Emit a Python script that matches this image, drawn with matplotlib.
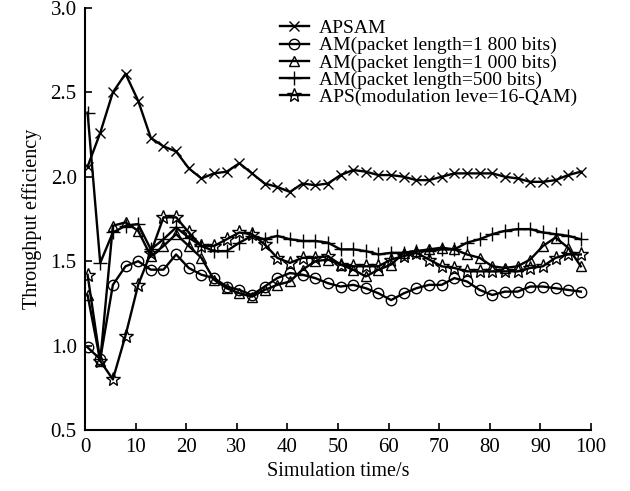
import matplotlib
matplotlib.use("Agg")
import matplotlib.pyplot as plt

plt.rcParams['font.family'] = ['Liberation Serif', 'DejaVu Serif']

# simulation time (s)
time = [0.5, 3.0, 5.5, 8.0, 10.5, 13.0, 15.5, 18.0, 20.5, 23.0,
        25.5, 28.0, 30.5, 33.0, 35.5, 38.0, 40.5, 43.0, 45.5, 48.0,
        50.5, 53.0, 55.5, 58.0, 60.5, 63.0, 65.5, 68.0, 70.5, 73.0,
        75.5, 78.0, 80.5, 83.0, 85.5, 88.0, 90.5, 93.0, 95.5, 98.0]

apsam = [2.06, 2.26, 2.50, 2.61, 2.45, 2.23, 2.18, 2.15, 2.05, 1.99,
         2.02, 2.03, 2.08, 2.02, 1.96, 1.94, 1.91, 1.96, 1.95, 1.96,
         2.01, 2.04, 2.03, 2.01, 2.01, 2.00, 1.98, 1.98, 2.00, 2.02,
         2.02, 2.02, 2.02, 2.00, 1.99, 1.97, 1.97, 1.98, 2.01, 2.03]

am_1800 = [0.99, 0.92, 1.36, 1.47, 1.50, 1.45, 1.45, 1.54, 1.46, 1.42,
           1.40, 1.35, 1.33, 1.30, 1.35, 1.40, 1.43, 1.42, 1.40, 1.37,
           1.35, 1.36, 1.34, 1.31, 1.27, 1.31, 1.34, 1.36, 1.36, 1.40,
           1.38, 1.33, 1.30, 1.32, 1.32, 1.35, 1.35, 1.34, 1.33, 1.32]

am_1000 = [1.30, 0.91, 1.71, 1.73, 1.68, 1.53, 1.59, 1.66, 1.59, 1.52,
           1.39, 1.34, 1.31, 1.29, 1.33, 1.36, 1.38, 1.45, 1.50, 1.51,
           1.48, 1.45, 1.41, 1.45, 1.48, 1.55, 1.56, 1.57, 1.58, 1.57,
           1.54, 1.52, 1.47, 1.46, 1.47, 1.51, 1.59, 1.64, 1.58, 1.47]

am_500 = [2.38, 1.49, 1.67, 1.71, 1.72, 1.57, 1.63, 1.70, 1.64, 1.59,
          1.56, 1.56, 1.61, 1.65, 1.63, 1.65, 1.63, 1.62, 1.62, 1.61,
          1.57, 1.57, 1.56, 1.54, 1.55, 1.55, 1.56, 1.56, 1.57, 1.57,
          1.61, 1.63, 1.66, 1.68, 1.69, 1.69, 1.67, 1.66, 1.65, 1.63]

aps_16qam = [1.42, 0.91, 0.80, 1.06, 1.36, 1.55, 1.76, 1.76, 1.67, 1.59,
             1.59, 1.63, 1.67, 1.66, 1.60, 1.52, 1.49, 1.52, 1.52, 1.53,
             1.48, 1.47, 1.47, 1.47, 1.51, 1.53, 1.55, 1.51, 1.47, 1.46,
             1.44, 1.44, 1.44, 1.44, 1.44, 1.46, 1.47, 1.52, 1.54, 1.54]

labels = ['APSAM',
          'AM(packet length=1 800 bits)',
          'AM(packet length=1 000 bits)',
          'AM(packet length=500 bits)',
          'APS(modulation leve=16-QAM)']

fig = plt.figure(figsize=(6.3, 4.91), dpi=100)
ax = fig.add_axes([0.135, 0.124, 0.803, 0.86])

kw = dict(color='black', linewidth=1.7, markersize=7.5, markerfacecolor='none',
          markeredgecolor='black', markeredgewidth=1.0)
ax.plot(time, apsam, marker='x', label=labels[0], **kw)
ax.plot(time, am_1800, marker='o', label=labels[1], **kw)
ax.plot(time, am_1000, marker='^', label=labels[2], **kw)
ax.plot(time, am_500, marker='+', label=labels[3], **{**kw, 'markersize': 10})
ax.plot(time, aps_16qam, marker='*', label=labels[4], **{**kw, 'markersize': 10})

ax.set_xlim(0, 100)
ax.set_ylim(0.5, 3.0)
ax.set_xticks(range(0, 101, 10))
ax.set_yticks([0.5, 1.0, 1.5, 2.0, 2.5, 3.0])
ax.set_yticklabels(['0.5', '1.0', '1.5', '2.0', '2.5', '3.0'])
ax.spines['top'].set_visible(False)
ax.spines['right'].set_visible(False)
ax.spines['left'].set_linewidth(1.5)
ax.spines['bottom'].set_linewidth(1.5)
ax.tick_params(direction='in', length=5, width=1.2, labelsize=15, pad=6)

ax.set_xlabel('Simulation time/s', fontsize=14.5, labelpad=3)
ax.set_ylabel('Throughput efficiency', fontsize=14.5, labelpad=6)

ax.legend(loc='upper left', bbox_to_anchor=(0.362, 1.0), frameon=False,
          fontsize=14, labelspacing=-0.02, handlelength=1.5, handletextpad=0.5,
          borderaxespad=0.2)

plt.savefig('out.png', dpi=100)
plt.close(fig)
